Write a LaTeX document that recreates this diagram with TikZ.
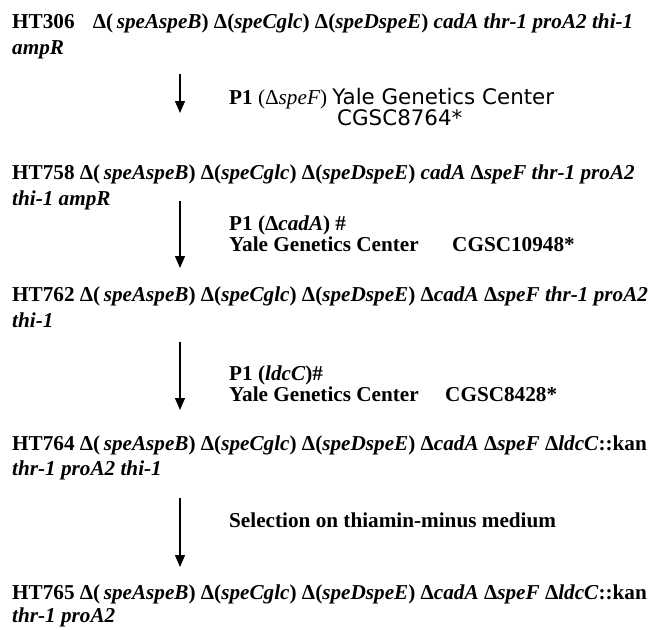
\documentclass[tikz,border=0pt]{standalone}
\usepackage{fontspec}
\setmainfont{Liberation Serif}
\newfontfamily\grandefont{DejaVu Sans}
\usetikzlibrary{arrows.meta}

\begin{document}
\begin{tikzpicture}[x=1pt,y=-1pt,
        strain/.style={anchor=base west,inner sep=0pt,font=\fontsize{21.2}{24}\selectfont\bfseries},
        sanstext/.style={anchor=base west,inner sep=0pt,font=\fontsize{21.4}{24}\selectfont\grandefont},
        transfer/.style={-{Triangle[length=12pt,width=10pt]},line width=1.1pt}]
        \useasboundingbox (0,0) rectangle (655,629);

        % strains
        \node[strain] (ht306) at (12,28) {HT306\hspace{13pt} Δ(\,\textit{speAspeB}) Δ(\textit{speCglc}) Δ(\textit{speDspeE}) \textit{cadA thr-1 proA2 thi-1}};
        \node[strain] (ht306b) at (12,54) {\textit{ampR}};
        \node[strain] (ht758) at (12,179) {HT758 Δ(\,\textit{speAspeB}) Δ(\textit{speCglc}) Δ(\textit{speDspeE}) \textit{cadA} Δ\textit{speF thr-1 proA2}};
        \node[strain] (ht758b) at (12,205) {\textit{thi-1 ampR}};
        \node[strain] (ht762) at (12,301) {HT762 Δ(\,\textit{speAspeB}) Δ(\textit{speCglc}) Δ(\textit{speDspeE}) Δ\textit{cadA} Δ\textit{speF thr-1 proA2}};
        \node[strain] (ht762b) at (12,327) {\textit{thi-1}};
        \node[strain] (ht764) at (12,450) {HT764 Δ(\,\textit{speAspeB}) Δ(\textit{speCglc}) Δ(\textit{speDspeE}) Δ\textit{cadA} Δ\textit{speF} Δ\textit{ldcC}::kan};
        \node[strain] (ht764b) at (12,475) {\textit{thr-1 proA2 thi-1}};
        \node[strain] (ht765) at (12,599) {HT765 Δ(\,\textit{speAspeB}) Δ(\textit{speCglc}) Δ(\textit{speDspeE}) Δ\textit{cadA} Δ\textit{speF} Δ\textit{ldcC}::kan};
        \node[strain] (ht765b) at (12,622) {\textit{thr-1 proA2}};

        % steps
        \node[strain] (p1spef) at (229,104) {P1 {\mdseries(Δ\textit{speF})} {\grandefont\mdseries\fontsize{21.4}{24}\selectfont Yale Genetics Center}};
        \node[sanstext] (cgsc8764) at (337,125) {CGSC8764*};
        \node[strain] (p1cada) at (229,230) {P1 (Δ\textit{cadA}) \#};
        \node[strain] (yale2) at (229,251) {Yale Genetics Center};
        \node[strain] (cgsc10948) at (452,251) {CGSC10948*};
        \node[strain] (p1ldcc) at (229,380) {P1 (\textit{ldcC})\#};
        \node[strain] (yale3) at (229,401) {Yale Genetics Center};
        \node[strain] (cgsc8428) at (445,401) {CGSC8428*};
        \node[strain] (select) at (229,527) {Selection on thiamin-minus medium};

        \coordinate (a1) at (180,74);  \coordinate (b1) at (180,113);
        \coordinate (a2) at (180,201); \coordinate (b2) at (180,268);
        \coordinate (a3) at (180,342); \coordinate (b3) at (180,410);
        \coordinate (a4) at (180,498); \coordinate (b4) at (180,567);

        \draw[transfer] (a1) -- (b1);
        \draw[transfer] (a2) -- (b2);
        \draw[transfer] (a3) -- (b3);
        \draw[transfer] (a4) -- (b4);
\end{tikzpicture}
\end{document}
